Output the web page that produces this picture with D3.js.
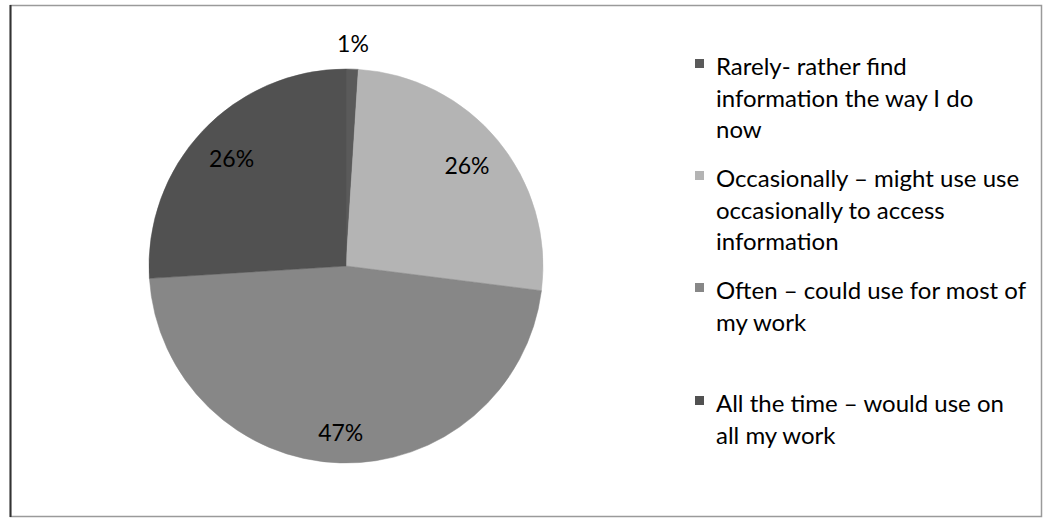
<!DOCTYPE html>
<html>
<head>
<meta charset="utf-8">
<script src="https://cdn.jsdelivr.net/npm/d3@7"></script>
<style>
  body { margin: 0; background: #fff; }
  svg { display: block; }
  text { font-family: Lato, "Open Sans", sans-serif; fill: #000; }
</style>
</head>
<body>
<div id="chart"></div>
<script>
// data
var categories = [
    "Rarely- rather find information the way I do now",
    "Occasionally – might use use occasionally to access information",
    "Often – could use for most of my work",
    "All the time – would use on all my work"
];
var values = [1, 26, 47, 26];
var valueLabels = ["1%", "26%", "47%", "26%"];
var legendLines = [
    ["Rarely- rather find", "information the way I do", "now"],
    ["Occasionally – might use use", "occasionally to access", "information"],
    ["Often – could use for most of", "my work"],
    ["All the time – would use on", "all my work"]
];
var colors = ["#5a5a5a", "#b4b4b4", "#878787", "#515151"];

var width = 1043, height = 521;
var cx = 346, cy = 266, radius = 197;

var svg = d3.select("#chart").append("svg")
    .attr("width", width)
    .attr("height", height);

// frame
svg.append("rect")
    .attr("x", 10.5).attr("y", 5.5)
    .attr("width", 1031).attr("height", 511)
    .style("fill", "none")
    .style("stroke", "#9a9a9a")
    .style("stroke-width", "1.5px");
svg.append("line")
    .attr("x1", 10.5).attr("y1", 5).attr("x2", 10.5).attr("y2", 517)
    .style("stroke", "#333").style("stroke-width", "2px");

var pie = d3.pie().sort(null).value(function (d) { return d; });
var arc = d3.arc().innerRadius(0).outerRadius(radius);
var arcs = pie(values);

var g = svg.append("g")
    .attr("transform", "translate(" + cx + "," + cy + ")");

g.selectAll("path.slice")
    .data(arcs)
    .enter().append("path")
    .attr("class", "slice")
    .attr("d", arc)
    .style("fill", function (d, i) { return colors[i]; })
    .style("stroke", function (d, i) { return colors[i]; })
    .style("stroke-width", "0.5px");

// label radii: small slice outside, rest inside
var labelRadius = [222, 157, 167, 157];
g.selectAll("text.pct")
    .data(arcs)
    .enter().append("text")
    .attr("class", "pct")
    .attr("transform", function (d, i) {
        var c = d3.arc().innerRadius(labelRadius[i]).outerRadius(labelRadius[i]).centroid(d);
        return "translate(" + c[0] + "," + c[1] + ")";
    })
    .attr("dy", "0.35em")
    .style("text-anchor", "middle")
    .style("font-size", "23px")
    .text(function (d, i) { return valueLabels[i]; });

// legend
var legendTop = [75, 187, 299, 412];
var lineH = 31.5;
var legend = svg.append("g").attr("class", "legend");
legendLines.forEach(function (lines, i) {
    legend.append("rect")
        .attr("x", 695)
        .attr("y", legendTop[i] - 16)
        .attr("width", 9).attr("height", 9)
        .style("fill", colors[i]);
    var t = legend.append("text")
        .attr("x", 716)
        .attr("y", legendTop[i])
        .style("font-size", "24px");
    lines.forEach(function (l, j) {
        t.append("tspan")
            .attr("x", 716)
            .attr("y", legendTop[i] + j * lineH)
            .text(l);
    });
});
</script>
</body>
</html>
